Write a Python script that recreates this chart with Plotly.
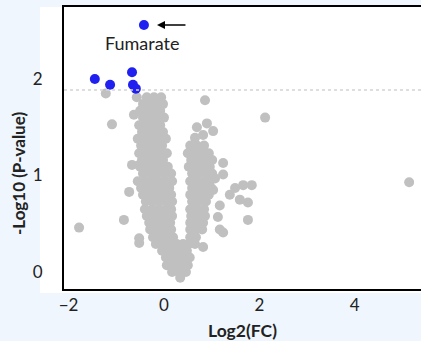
import plotly.graph_objects as go

# ---- data ----
# significant metabolites (blue)
sig_x = [-0.42, -1.45, -1.13, -0.67, -0.65, -0.59]
sig_y = [2.56, 2.00, 1.94, 2.07, 1.94, 1.90]

# dense left branch of the volcano: (-log10 p, [log2 FC ...])
left_rows = [
    (1.81, [-0.36, -0.21, -0.06]),
    (1.74, [-0.44, -0.29, -0.15, -0.02]),
    (1.67, [-0.50, -0.36, -0.21, -0.08]),
    (1.60, [-0.44, -0.29, -0.15, 0.00]),
    (1.52, [-0.52, -0.38, -0.23, -0.08]),
    (1.45, [-0.46, -0.31, -0.17, -0.02]),
    (1.38, [-0.55, -0.40, -0.25, -0.11, 0.04]),
    (1.31, [-0.48, -0.34, -0.19, -0.04]),
    (1.23, [-0.52, -0.38, -0.23, -0.08, 0.06]),
    (1.16, [-0.46, -0.31, -0.17, -0.02]),
    (1.09, [-0.50, -0.36, -0.21, -0.06, 0.08]),
    (1.02, [-0.44, -0.29, -0.15, 0.00, 0.15]),
    (0.94, [-0.55, -0.40, -0.25, -0.11, 0.04, 0.17]),
    (0.87, [-0.48, -0.34, -0.19, -0.04, 0.11]),
    (0.80, [-0.44, -0.29, -0.15, 0.00, 0.15]),
    (0.73, [-0.38, -0.23, -0.08, 0.06, 0.17]),
    (0.65, [-0.40, -0.25, -0.11, 0.04, 0.15]),
    (0.58, [-0.36, -0.21, -0.06, 0.08, 0.17]),
    (0.51, [-0.31, -0.17, -0.02, 0.13]),
    (0.44, [-0.29, -0.15, 0.00, 0.15]),
    (0.36, [-0.23, -0.08, 0.06, 0.19]),
    (0.29, [-0.17, -0.02, 0.13, 0.27, 0.40]),
    (0.22, [-0.04, 0.10, 0.23, 0.36, 0.48]),
    (0.15, [0.04, 0.17, 0.31, 0.44, 0.54]),
    (0.07, [0.06, 0.21, 0.36, 0.50]),
    (0.00, [0.17, 0.31, 0.46]),
    (-0.06, [0.34]),
]

# dense right branch of the volcano
right_rows = [
    (1.50, [0.69]),
    (1.54, [0.90]),
    (1.46, [1.03]),
    (1.42, [0.82]),
    (1.39, [0.65]),
    (1.31, [0.55, 0.69, 0.84]),
    (1.23, [0.50, 0.65, 0.80, 0.94]),
    (1.16, [0.57, 0.71, 0.86, 1.01]),
    (1.09, [0.52, 0.67, 0.82, 0.96]),
    (1.02, [0.59, 0.73, 0.88, 1.01]),
    (0.94, [0.55, 0.69, 0.84, 0.96]),
    (0.87, [0.59, 0.73, 0.88, 0.99]),
    (0.80, [0.55, 0.69, 0.84, 0.94]),
    (0.73, [0.59, 0.73, 0.88]),
    (0.65, [0.55, 0.69, 0.84]),
    (0.58, [0.57, 0.71, 0.86]),
    (0.51, [0.55, 0.69, 0.82]),
    (0.44, [0.55, 0.67, 0.80]),
    (0.36, [0.55, 0.67]),
    (0.29, [0.52, 0.65]),
]

# scattered non-significant metabolites
scatter_x = [1.24, 1.24, 1.07, 1.38, 1.49, 1.66, 1.84, 1.59, 1.76, 1.76,
             1.17, 1.13, 1.17, 1.24, 0.82, 1.03, 0.86, 2.12, 5.14, -1.78,
             -0.84, -0.52, -0.52, -0.73, -1.22, -1.09, -0.63, -0.67, -0.52, -0.57]
scatter_y = [1.13, 1.01, 0.97, 0.80, 0.87, 0.90, 0.90, 0.75, 0.72, 0.54,
             0.69, 0.57, 0.44, 0.41, 0.26, 0.85, 1.78, 1.60, 0.93, 0.46,
             0.54, 0.35, 0.30, 0.83, 1.85, 1.53, 1.63, 1.11, 1.11, 1.81]

threshold = 1.886
x_ticks = [-2, 0, 2, 4]
y_ticks = [0, 1, 2]
label_name = "Fumarate"

# ---- build ----
gray_x, gray_y = [], []
for rows in (left_rows, right_rows):
    for yv, xs in rows:
        for xv in xs:
            gray_x.append(xv)
            gray_y.append(yv)
gray_x += scatter_x
gray_y += scatter_y

FONT = "Lato"
TXT = "#222222"

W, H = 421, 341
L, R, T, B = 64, 0, 7, 52
PW = W - L - R
PH = H - T - B

fig = go.Figure()
fig.add_trace(go.Scatter(x=gray_x, y=gray_y, mode="markers",
                         marker=dict(color="#C0C0C0", size=10, line=dict(width=0)),
                         hoverinfo="skip", showlegend=False))
fig.add_trace(go.Scatter(x=sig_x, y=sig_y, mode="markers",
                         marker=dict(color="#2020F0", size=10, line=dict(width=0)),
                         hoverinfo="skip", showlegend=False))

fig.update_layout(
    width=W, height=H,
    margin=dict(l=L, r=R, t=T, b=B, pad=0),
    paper_bgcolor="#EFF6FD",
    plot_bgcolor="white",
    font=dict(family=FONT, color=TXT),
    showlegend=False,
    xaxis=dict(range=[-2.096, 5.388], tickvals=x_ticks, ticks="",
               showgrid=False, zeroline=False, automargin=False,
               showline=True, linecolor="black", linewidth=2, mirror=True,
               tickfont=dict(size=17, family=FONT, color=TXT),
               ticklabelstandoff=0),
    yaxis=dict(range=[-0.176, 2.746], tickvals=y_ticks, ticks="",
               showgrid=False, zeroline=False, automargin=False,
               showline=True, linecolor="black", linewidth=2, mirror=False,
               tickfont=dict(size=17, family=FONT, color=TXT),
               ticklabelstandoff=16),
    shapes=[
        dict(type="rect", xref="paper", yref="paper", x0=-24 / PW, x1=1.0,
             y0=-4 / PH, y1=1.0, fillcolor="white",
             line=dict(width=0, color="rgba(0,0,0,0)"), layer="below"),
        # white strip along the right edge of the window
        dict(type="rect", xref="paper", yref="paper", x0=1 - 7 / PW, x1=1.0,
             y0=3 / PH, y1=1 - 3 / PH, fillcolor="white",
             line=dict(width=0, color="rgba(0,0,0,0)"), layer="above"),
        dict(type="line", xref="paper", yref="y", x0=0, x1=1,
             y0=threshold, y1=threshold,
             line=dict(color="#D4D4D4", width=1.5, dash="dot")),
    ],
    annotations=[
        dict(x=-0.46, y=2.37, xref="x", yref="y", text=label_name,
             showarrow=False, font=dict(size=18, family=FONT, color=TXT)),
        dict(x=-0.147, y=2.56, xref="x", yref="y", text="", showarrow=True,
             ax=30, ay=0, arrowhead=2, arrowsize=1, arrowwidth=1.6,
             arrowcolor="black"),
        dict(x=0.5, y=-41 / PH, xref="paper", yref="paper", text="<b>Log2(FC)</b>",
             showarrow=False, xanchor="center", yanchor="middle",
             font=dict(size=17.5, family=FONT, color=TXT)),
        dict(x=-46 / PW, y=0.411, xref="paper", yref="paper",
             text="<b>-Log10 (P-value)</b>", textangle=-90,
             showarrow=False, xanchor="center", yanchor="middle",
             font=dict(size=17, family=FONT, color=TXT)),
    ],
)

fig.write_html("out.html", config={"displayModeBar": False},
               post_script="document.body.style.margin='0';document.body.style.overflow='hidden';")
